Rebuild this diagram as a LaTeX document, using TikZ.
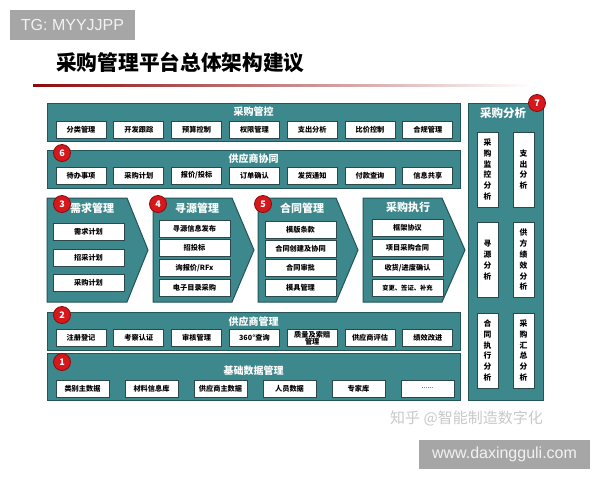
\documentclass[tikz,border=0pt]{standalone}
\usepackage{fontspec}
\setmainfont{Noto Sans CJK SC}
\newfontfamily\latinfont{Liberation Sans}
\definecolor{tealP}{RGB}{60,136,140}
\definecolor{tealD}{RGB}{34,84,88}
\definecolor{boxD}{RGB}{45,72,75}
\definecolor{badgeR}{RGB}{214,24,28}
\definecolor{badgeD}{RGB}{140,10,12}
\definecolor{tagG}{RGB}{166,166,166}
\definecolor{wmG}{RGB}{200,200,200}
\begin{document}
\begin{tikzpicture}[x=1pt,y=-1pt,
  panel/.style={draw=tealD,fill=tealP,line width=1pt,inner sep=0pt},
  chev/.style={draw=tealD,fill=tealP,line width=1pt,line join=miter},
  ptitle/.style={text=white,font=\bfseries\fontsize{10}{12}\selectfont,inner sep=0pt},
  ctitle/.style={text=white,font=\bfseries\fontsize{11}{13}\selectfont,inner sep=0pt},
  sbox/.style={draw=boxD,fill=white,line width=0.7pt,inner sep=0pt,
    minimum width=50pt,minimum height=17pt,align=center,
    font=\bfseries\fontsize{7.2}{7.4}\selectfont},
  wbox/.style={sbox,minimum width=71pt},
  bbox/.style={sbox,minimum width=53pt},
  vbox/.style={draw=boxD,fill=white,line width=0.7pt,inner sep=0pt,
    minimum width=21pt,minimum height=75pt,align=center,
    font=\bfseries\fontsize{7.8}{10.8}\selectfont},
  badge/.style={circle,draw=badgeD,fill=badgeR,line width=0.8pt,inner sep=0pt,
    minimum size=17pt,text=white,font=\bfseries\fontsize{9}{10}\selectfont},
  tag/.style={fill=tagG,text=white!95!black,inner sep=0pt,font=\latinfont\fontsize{16}{18}\selectfont}
]
\useasboundingbox (0,0) rectangle (600,480);

% header tag and title
\node[tag,minimum width=125pt,minimum height=30pt] (tg) at (72.5,25) {TG: MYYJJPP};
\node[anchor=west,inner sep=0pt,font=\bfseries\fontsize{20.7}{22}\selectfont] (title) at (56,63) {采购管理平台总体架构建议};
\shade[left color=badgeD,right color=white] (33,84.2) rectangle (532,86.2);

% 采购管控
\node[panel,minimum width=413pt,minimum height=38pt] (pk) at (253.5,122) {};
\node[ptitle] (pkt) at (253.5,112) {采购管控};
\foreach \t [count=\i] in {分类管理,开发跟踪,预算控制,权限管理,支出分析,比价控制,合规管理}
  \node[sbox] (pk\i) at ({81+57.8*(\i-1)},129.5) {\t};

% 供应商协同
\node[panel,minimum width=413pt,minimum height=38pt] (xt) at (253.5,169) {};
\node[ptitle] (xtt) at (253.5,159) {供应商协同};
\foreach \t [count=\i] in {待办事项,采购计划,报价/投标,订单确认,发货通知,付款查询,信息共享}
  \node[sbox] (xt\i) at ({81+57.8*(\i-1)},175.5) {\t};

% chevrons
\path[chev] (47,198) coordinate (c1a) -- (127,198) -- (148,250) coordinate (c1tip) -- (127,302) -- (47,302) -- cycle;
\path[chev] (153,198) -- (232,198) -- (254,250) coordinate (c2tip) -- (232,302) -- (153,302) -- cycle;
\path[chev] (258,198) -- (336,198) -- (358,250) coordinate (c3tip) -- (336,302) -- (258,302) -- cycle;
\path[chev] (363,198) -- (442,198) -- (465,250) coordinate (c4tip) -- (442,302) -- (363,302) -- cycle;

\node[ctitle] (c1t) at (92,208) {需求管理};
\node[ctitle] (c2t) at (197,208) {寻源管理};
\node[ctitle] (c3t) at (302,208) {合同管理};
\node[ctitle] (c4t) at (408,207) {采购执行};

\node[wbox] (xq1) at (88.5,231.5) {需求计划};
\node[wbox] (xq2) at (88.5,257.5) {招采计划};
\node[wbox] (xq3) at (88.5,282.5) {采购计划};

\node[wbox] (xy1) at (194.5,228.5) {寻源信息发布};
\node[wbox] (xy2) at (194.5,248) {招投标};
\node[wbox] (xy3) at (194.5,268) {询报价/RFx};
\node[wbox] (xy4) at (194.5,288) {电子目录采购};

\node[wbox] (ht1) at (300.5,229.5) {模版条款};
\node[wbox] (ht2) at (300.5,249) {合同创建及协同};
\node[wbox] (ht3) at (300.5,268) {合同审批};
\node[wbox] (ht4) at (300.5,288) {模具管理};

\node[wbox] (zx1) at (407.5,228) {框架协议};
\node[wbox] (zx2) at (407.5,248) {项目采购合同};
\node[wbox] (zx3) at (407.5,268) {收货/进度确认};
\node[wbox,font=\bfseries\fontsize{6.3}{7}\selectfont] (zx4) at (407.5,288) {变更、签证、补充};

% 供应商管理
\node[panel,minimum width=413pt,minimum height=38pt] (gm) at (253.5,331) {};
\node[ptitle] (gmt) at (253.5,322) {供应商管理};
\foreach \t [count=\i] in {注册登记,考察认证,审核管理,360°查询,{质量及索赔\\管理},供应商评估,绩效改进}
  \node[sbox] (gm\i) at ({81+57.8*(\i-1)},338) {\t};

% 基础数据管理
\node[panel,minimum width=413pt,minimum height=47pt] (jc) at (253.5,376.5) {};
\node[ptitle] (jct) at (253.5,371) {基础数据管理};
\foreach \t [count=\i] in {类别主数据,材料信息库,供应商主数据,人员数据,专家库}
  \node[bbox] (jc\i) at ({82.5+69*(\i-1)},388.5) {\t};
\node[bbox,font=\latinfont\fontsize{7}{7}\selectfont] (jc6) at (427.5,388.5) {......};

% 采购分析
\node[panel,minimum width=75pt,minimum height=297pt] (fx) at (505.5,251.5) {};
\node[ctitle,font=\bfseries\fontsize{11.5}{13}\selectfont] (fxt) at (503,113) {采购分析};
\node[vbox] (fx1) at (487.5,169.5) {采\\购\\监\\控\\分\\析};
\node[vbox] (fx2) at (523.5,169.5) {支\\出\\分\\析};
\node[vbox] (fx3) at (487.5,260) {寻\\源\\分\\析};
\node[vbox] (fx4) at (523.5,260) {供\\方\\绩\\效\\分\\析};
\node[vbox] (fx5) at (487.5,350.5) {合\\同\\执\\行\\分\\析};
\node[vbox] (fx6) at (523.5,350.5) {采\\购\\汇\\总\\分\\析};

% badges
\node[badge] (b6) at (62,153) {6};
\node[badge] (b3) at (62,204) {3};
\node[badge] (b4) at (158,204) {4};
\node[badge] (b5) at (263,204) {5};
\node[badge] (b2) at (62,315) {2};
\node[badge] (b1) at (62,362) {1};
\node[badge] (b7) at (537,103) {7};

% watermarks
\node[text=wmG,inner sep=0pt,anchor=west,font=\fontsize{15}{17}\selectfont] (zh) at (390,418) {知乎 @智能制造数字化};
\node[tag,minimum width=171pt,minimum height=29pt] (www) at (504.5,454.5) {www.daxingguli.com};
\end{tikzpicture}
\end{document}
